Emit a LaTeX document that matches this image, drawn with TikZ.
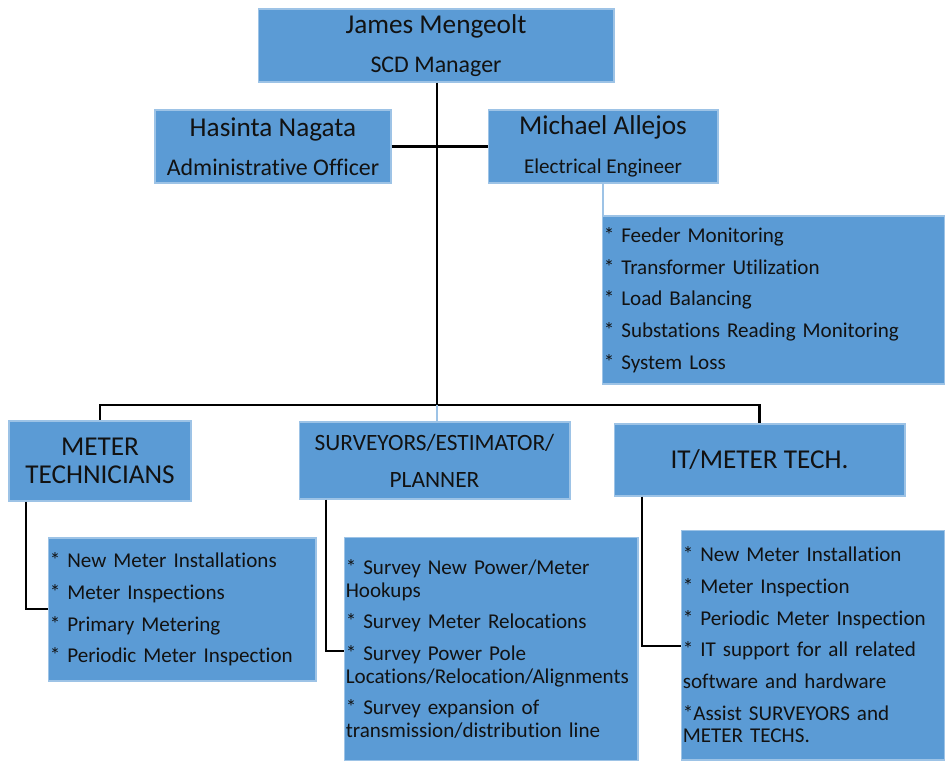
\documentclass[tikz,border=0pt]{standalone}
\usepackage{fontspec}
\setmainfont{Carlito}[Ligatures=NoCommon]
\usepackage{xcolor}
\definecolor{colBox}{HTML}{5B9BD5}
\definecolor{colEdge}{HTML}{9DC3E6}
\definecolor{colText}{HTML}{121212}
\usepackage{tikz}
\usetikzlibrary{positioning}

\newcommand{\namefont}{\fontsize{15.5}{22}\selectfont}
\newcommand{\rolefont}{\fontsize{13.6}{22}\selectfont}

\tikzset{
  unitbox/.style={draw=colEdge, line width=0.6pt, fill=colBox, text=colText, align=center, inner sep=0pt},
  headbox/.style={unitbox, minimum height=1.46cm, font=\namefont},
  dutybox/.style={unitbox, align=left, inner xsep=1pt, font=\fontsize{12}{13}\selectfont},
  link/.style={draw=black, line width=1.3pt},
  feed/.style={draw=colEdge, line width=0.8pt}
}

\begin{document}
\begin{tikzpicture}[x=0.02cm, y=-0.02cm]
        \useasboundingbox (0,0) rectangle (945,760);
        % Manager and staff
        \node[headbox, minimum width=7.12cm] (jm) at (436,45.5) {James Mengeolt\\\rolefont SCD Manager};
        \node[headbox, minimum width=4.72cm] (hn) at (273,146.5) {Hasinta Nagata\\\rolefont Administrative Officer};
        \node[headbox, minimum width=4.60cm] (ma) at (603,146.5) {Michael Allejos\\\fontsize{12}{22}\selectfont Electrical Engineer};
        \node[dutybox, minimum width=6.86cm, minimum height=3.36cm, text width=6.86cm-2pt] (fd) at (773.5,300) {* Feeder Monitoring\\[5pt]* Transformer Utilization\\[5pt]* Load Balancing\\[5pt]* Substations Reading Monitoring\\[5pt]* System Loss};
        % Sections
        \node[unitbox, minimum width=3.64cm, minimum height=1.60cm, font=\fontsize{15.5}{16}\selectfont] (mt) at (100,461) {METER\\TECHNICIANS};
        \node[unitbox, minimum width=5.42cm, minimum height=1.54cm, font=\fontsize{13.3}{21}\selectfont] (sv) at (434.5,460.5) {SURVEYORS/ESTIMATOR/\\PLANNER};
        \node[unitbox, minimum width=5.82cm, minimum height=1.44cm, font=\fontsize{15.5}{16}\selectfont] (it) at (759.5,460) {IT/METER TECH.};
        % Duties
        \node[dutybox, minimum width=5.36cm, minimum height=2.86cm, text width=5.36cm-2pt] (mtd) at (182,609.5) {* New Meter Installations\\[5pt]* Meter Inspections\\[5pt]* Primary Metering\\[5pt]* Periodic Meter Inspection};
        \node[dutybox, minimum width=5.88cm, minimum height=4.48cm, text width=5.88cm-2pt] (svd) at (491,649) {* Survey New Power/Meter\\Hookups\\[5pt]* Survey Meter Relocations\\[5pt]* Survey Power Pole\\Locations/Relocation/Alignments\\[5pt]* Survey expansion of\\transmission/distribution line};
        \node[dutybox, minimum width=5.28cm, minimum height=4.60cm, text width=5.28cm-2pt] (itd) at (813,645) {* New Meter Installation\\[5pt]* Meter Inspection\\[5pt]* Periodic Meter Inspection\\[5pt]* IT support for all related\\[5pt]software and hardware\\[5pt]*Assist SURVEYORS and\\METER TECHS.};
        % Trunk and cross line
        \coordinate (trunk) at (437,405);
        \draw[link] (jm.south -| trunk) -- (trunk);
        \draw[link] (hn.east) -- (ma.west);
        \draw[feed] (ma.south) -- (ma.south |- fd.north);
        % Bus to sections
        \draw[link] (trunk) -| (mt.north);
        \draw[link] (trunk) -| (it.north);
        \draw[feed] (trunk) -- (trunk |- sv.north);
        % Sections to duties
        \coordinate (mtknee) at (26,609);
        \coordinate (svknee) at (326,651);
        \coordinate (itknee) at (642,646);
        \draw[link] (mt.south -| mtknee) -- (mtknee) -- (mtknee -| mtd.west);
        \draw[link] (sv.south -| svknee) -- (svknee) -- (svknee -| svd.west);
        \draw[link] (it.south -| itknee) -- (itknee) -- (itknee -| itd.west);
    \end{tikzpicture}
\end{document}
